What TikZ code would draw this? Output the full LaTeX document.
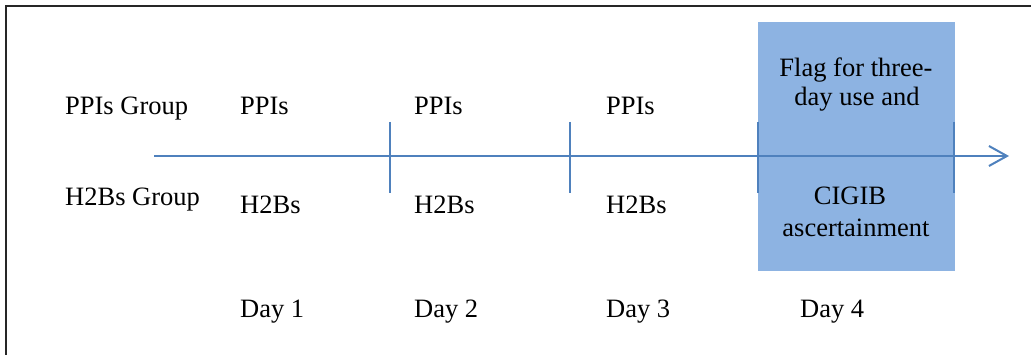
\documentclass[tikz,border=0pt]{standalone}
\usepackage{fontspec}
\setmainfont{Liberation Serif}
\usetikzlibrary{arrows.meta}
\definecolor{axisblue}{HTML}{4F81BD}
\definecolor{boxblue}{HTML}{8DB3E2}
\begin{document}
\begin{tikzpicture}[x=1pt,y=-1pt,
  lbl/.style={anchor=base west,inner sep=0pt,font=\fontsize{26.5}{30}\selectfont},
  boxtxt/.style={anchor=base,inner sep=0pt,font=\fontsize{26.5}{30}\selectfont},
  axis/.style={draw=axisblue,line width=2pt},
  tick/.style={draw=axisblue,line width=2pt}]
\useasboundingbox (0,0) rectangle (1031,355);
\clip (0,0) rectangle (1031,355);
\draw[line width=1.3pt,draw=black!85] (6,6) rectangle (1040,365);
% highlighted box
\fill[boxblue] (758,22) rectangle (955,271);
% axis
\coordinate (a0) at (154,156);
\coordinate (a1) at (1009,156);
\draw[axis,-{Straight Barb[length=18pt,width=20pt,line width=2pt]}] (a0) -- (a1);
% ticks
\foreach \n/\x in {t1/390,t2/570,t3/758,t4/954}{
  \coordinate (\n top) at (\x,122);
  \coordinate (\n bot) at (\x,193);
  \draw[tick] (\n top) -- (\n bot);
}
% labels
\node[lbl] (pg) at (65,115) {PPIs Group};
\node[lbl] (hg) at (65,206) {H2Bs Group};
\node[lbl] (p1) at (240,115) {PPIs};
\node[lbl] (p2) at (414,115) {PPIs};
\node[lbl] (p3) at (606,115) {PPIs};
\node[lbl] (h1) at (240,214) {H2Bs};
\node[lbl] (h2) at (414,214) {H2Bs};
\node[lbl] (h3) at (606,214) {H2Bs};
\node[lbl] (d1) at (240,318) {Day 1};
\node[lbl] (d2) at (414,318) {Day 2};
\node[lbl] (d3) at (606,318) {Day 3};
\node[lbl] (d4) at (800,318) {Day 4};
\node[boxtxt] (f1) at (856,77) {Flag for three-};
\node[boxtxt] (f2) at (857,106) {day use and};
\node[boxtxt] (f3) at (850,205) {CIGIB};
\node[boxtxt] (f4) at (856,237) {ascertainment};
\end{tikzpicture}
\end{document}
